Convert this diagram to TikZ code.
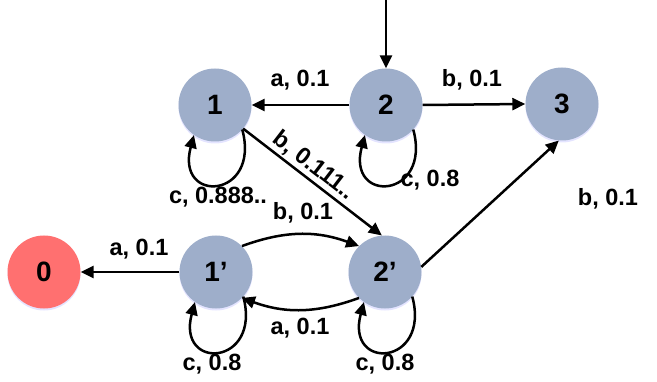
\documentclass[tikz,border=0pt]{standalone}
\usepackage{fontspec}
\setmainfont{Liberation Sans}
\usetikzlibrary{arrows.meta,shadows}
\definecolor{stblue}{HTML}{9EAECA}
\definecolor{stred}{HTML}{FF7070}
\begin{document}
\begin{tikzpicture}[x=1pt,y=1pt,
  state/.style={circle,fill=stblue,minimum size=73pt,inner sep=0pt,
    font=\fontsize{28}{30}\selectfont\bfseries,
    drop shadow={shadow xshift=0pt,shadow yshift=-2pt,opacity=0.35,fill=blue!30}},
  lbl/.style={font=\fontsize{23.5}{25}\selectfont\bfseries,inner sep=1pt},
  arr/.style={line width=2.5pt,-{Triangle[length=13pt,width=12pt]}}]
\useasboundingbox (0,0) rectangle (657,381);
\node[state] (n1) at (215,276) {1};
\node[state] (n2) at (386,276) {2};
\node[state] (n3) at (562,277) {3};
\node[state,fill=stred] (n0) at (44,109) {0};
\node[state] (n1p) at (216,109) {1’};
\node[state] (n2p) at (385,109) {2’};
\coordinate (start) at (386,381);
% edges
\draw[arr] (start) -- (n2.north);
\draw[arr] (n2.west) -- (n1.east);
\draw[arr] (n2.east) -- (n3.west);
\draw[arr] (n1.-40) -- node[lbl,sloped,above,pos=0.45,inner sep=2pt] (l3) {b, 0.111..} (n2p.95);
\draw[arr] (n1p.west) -- (n0.east);
\draw[arr] (n2p.8) -- (n3.-95);
\draw[arr] (n1p.45) to[out=20,in=160] (n2p.135);
\draw[arr] (n2p.-135) to[out=-160,in=-20] (n1p.-45);
% loops
\draw[arr] (n1.-42) .. controls +(-75:72) and +(-105:72) .. (n1.-125);
\draw[arr] (n2.-42) .. controls +(-75:72) and +(-105:72) .. (n2.-125);
\draw[arr] (n1p.-42) .. controls +(-75:72) and +(-105:72) .. (n1p.-125);
\draw[arr] (n2p.-42) .. controls +(-75:72) and +(-105:72) .. (n2p.-125);
% labels
\node[lbl] (l1) at (300,301) {a, 0.1};
\node[lbl] (l2) at (472,301) {b, 0.1};
\node[lbl] (l4) at (218,184) {c, 0.888..};
\node[lbl] (l5) at (430,201) {c, 0.8};
\node[lbl] (l6) at (303,168) {b, 0.1};
\node[lbl] (l7) at (300,53) {a, 0.1};
\node[lbl] (l8) at (212,17) {c, 0.8};
\node[lbl] (l9) at (385,17) {c, 0.8};
\node[lbl] (l10) at (139,132) {a, 0.1};
\node[lbl] (l11) at (608,182) {b, 0.1};
\end{tikzpicture}
\end{document}
